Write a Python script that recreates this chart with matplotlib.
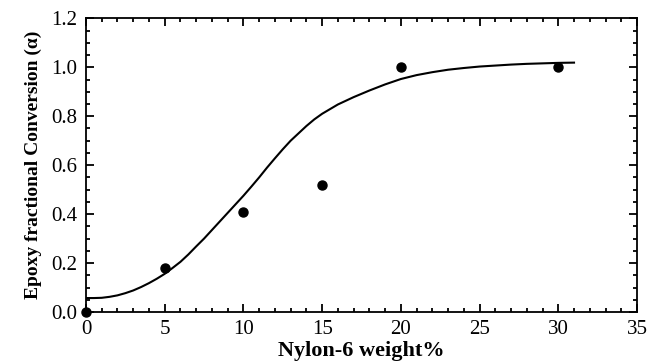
import matplotlib.pyplot as plt
from matplotlib.ticker import MultipleLocator

# measured conversion vs nylon-6 content
nylon_wt = [0, 5, 10, 15, 20, 30]
conversion = [0.0, 0.18, 0.41, 0.52, 1.0, 1.0]

# fitted curve, read point by point
fit_x = [0, 0.5, 1, 1.5, 2, 2.5, 3, 3.5, 4, 4.5, 5, 5.5, 6, 6.5, 7, 7.5, 8,
         8.5, 9, 9.5, 10, 10.5, 11, 11.5, 12, 12.5, 13, 13.5, 14, 14.5, 15,
         16, 17, 18, 19, 20, 21, 22, 23, 24, 25, 26, 27, 28, 29, 30, 31]
fit_y = [0.057, 0.057, 0.058, 0.062, 0.068, 0.077, 0.088, 0.102, 0.118,
         0.136, 0.156, 0.18, 0.205, 0.235, 0.268, 0.30, 0.335, 0.37, 0.405,
         0.44, 0.475, 0.512, 0.55, 0.59, 0.628, 0.665, 0.70, 0.73, 0.76,
         0.787, 0.81, 0.848, 0.878, 0.905, 0.93, 0.952, 0.968, 0.98, 0.99,
         0.997, 1.003, 1.007, 1.011, 1.014, 1.016, 1.018, 1.019]

plt.rcParams['font.family'] = ['Liberation Serif', 'DejaVu Serif']

fig = plt.figure(figsize=(6.49, 3.63), dpi=100)
ax = fig.add_axes([0.1325, 0.1405, 0.8490, 0.8090])

ax.plot(fit_x, fit_y, color='black', lw=1.5, zorder=2)
ax.plot(nylon_wt, conversion, 'o', color='black', ms=6.5, clip_on=False, zorder=3)

ax.set_xlim(0, 35)
ax.set_ylim(0, 1.2)
ax.xaxis.set_major_locator(MultipleLocator(5))
ax.xaxis.set_minor_locator(MultipleLocator(1))
ax.yaxis.set_major_locator(MultipleLocator(0.2))
ax.yaxis.set_minor_locator(MultipleLocator(0.05))
ax.yaxis.set_major_formatter(plt.FormatStrFormatter('%.1f'))

ax.tick_params(which='both', direction='in', top=True, right=True, width=1.3,
               labelsize=15, pad=6)
ax.tick_params(which='major', length=6)
ax.tick_params(which='minor', length=3)
for s in ax.spines.values():
    s.set_linewidth(1.3)

ax.set_xlabel('Nylon-6 weight%', fontsize=16, fontweight='bold', labelpad=1)
ax.set_ylabel('Epoxy fractional Conversion (α)', fontsize=14,
              fontweight='bold', labelpad=7)

fig.savefig('out.png', dpi=100)
